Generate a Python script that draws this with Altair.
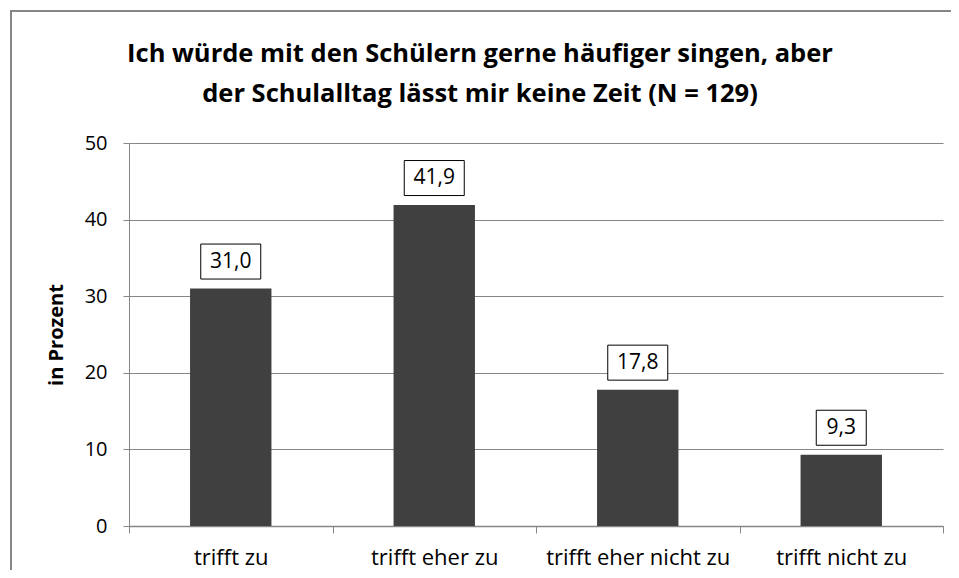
import altair as alt
import pandas as pd

categories = ["trifft zu", "trifft eher zu", "trifft eher nicht zu", "trifft nicht zu"]
values = [31.0, 41.9, 17.8, 9.3]
labels = ["31,0", "41,9", "17,8", "9,3"]
title_lines = ["Ich würde mit den Schülern gerne häufiger singen, aber",
               "der Schulalltag lässt mir keine Zeit (N = 129)"]
y_ticks = [0, 10, 20, 30, 40, 50]
y_title = "in Prozent"

df = pd.DataFrame({"cat": categories, "val": values, "label": labels})
one = pd.DataFrame({"k": [0]})

W, H = 814, 383
FONT = "Open Sans"
GRAY = "#868686"

x = alt.X("cat:N", sort=categories,
          scale=alt.Scale(paddingInner=0, paddingOuter=0),
          axis=alt.Axis(title=None, labelAngle=0, tickBand="extent", tickSize=7,
                        domainColor=GRAY, tickColor=GRAY, domainWidth=1.5,
                        labelFont=FONT, labelFontSize=22, labelColor="#000",
                        labelPadding=14, labelLimit=0, grid=False))
y = alt.Y("val:Q", scale=alt.Scale(domain=[0, 50], nice=False),
          axis=alt.Axis(values=y_ticks, title=y_title, grid=True, gridColor=GRAY,
                        domainColor=GRAY, tickColor=GRAY, tickSize=6,
                        labelFont=FONT, labelFontSize=20, labelColor="#000",
                        labelPadding=16, titleFont=FONT, titleFontSize=20,
                        titleFontWeight="bold", titleColor="#000",
                        titleAngle=-90, titleX=-73, titleY=H / 2,
                        titleAlign="center", titleBaseline="middle"))

base = alt.Chart(df)
bars = base.mark_bar(color="#404040", width=alt.RelativeBandSize(0.4)).encode(x=x, y=y)

box4 = base.transform_filter("length(datum.label) == 4").mark_rect(
    width=60, height=35, yOffset=-27, fill="white", stroke="black", strokeWidth=1
).encode(x=alt.X("cat:N", sort=categories), y="val:Q")
box3 = base.transform_filter("length(datum.label) == 3").mark_rect(
    width=50, height=35, yOffset=-27, fill="white", stroke="black", strokeWidth=1
).encode(x=alt.X("cat:N", sort=categories), y="val:Q")
text = base.mark_text(yOffset=-27, baseline="middle", font=FONT, fontSize=21, color="#000").encode(
    x=alt.X("cat:N", sort=categories), y="val:Q", text="label:N")

border_v = alt.Chart(one).mark_rule(color=GRAY, strokeWidth=2, clip=False).encode(
    x=alt.value(-118), y=alt.value(-132), y2=alt.value(H + 60))
border_h = alt.Chart(one).mark_rule(color=GRAY, strokeWidth=2, clip=False).encode(
    x=alt.value(-119), x2=alt.value(W + 20), y=alt.value(-132))

title = alt.Chart(one).mark_text(
    font=FONT, fontSize=25.5, fontWeight="bold", color="#000", align="center",
    baseline="alphabetic", lineHeight=40, clip=False
).encode(x=alt.value(W / 2 - 56), y=alt.value(-81), text=alt.value(title_lines))

chart = alt.layer(border_v, border_h, title, bars, box4, box3, text).properties(
    width=W, height=H,
    autosize=alt.AutoSizeParams(type="none"),
    padding={"left": 121, "top": 135, "right": 8, "bottom": 44},
).configure_view(stroke=None)

chart.save("out.html", embed_options={"renderer": "svg", "actions": False})
